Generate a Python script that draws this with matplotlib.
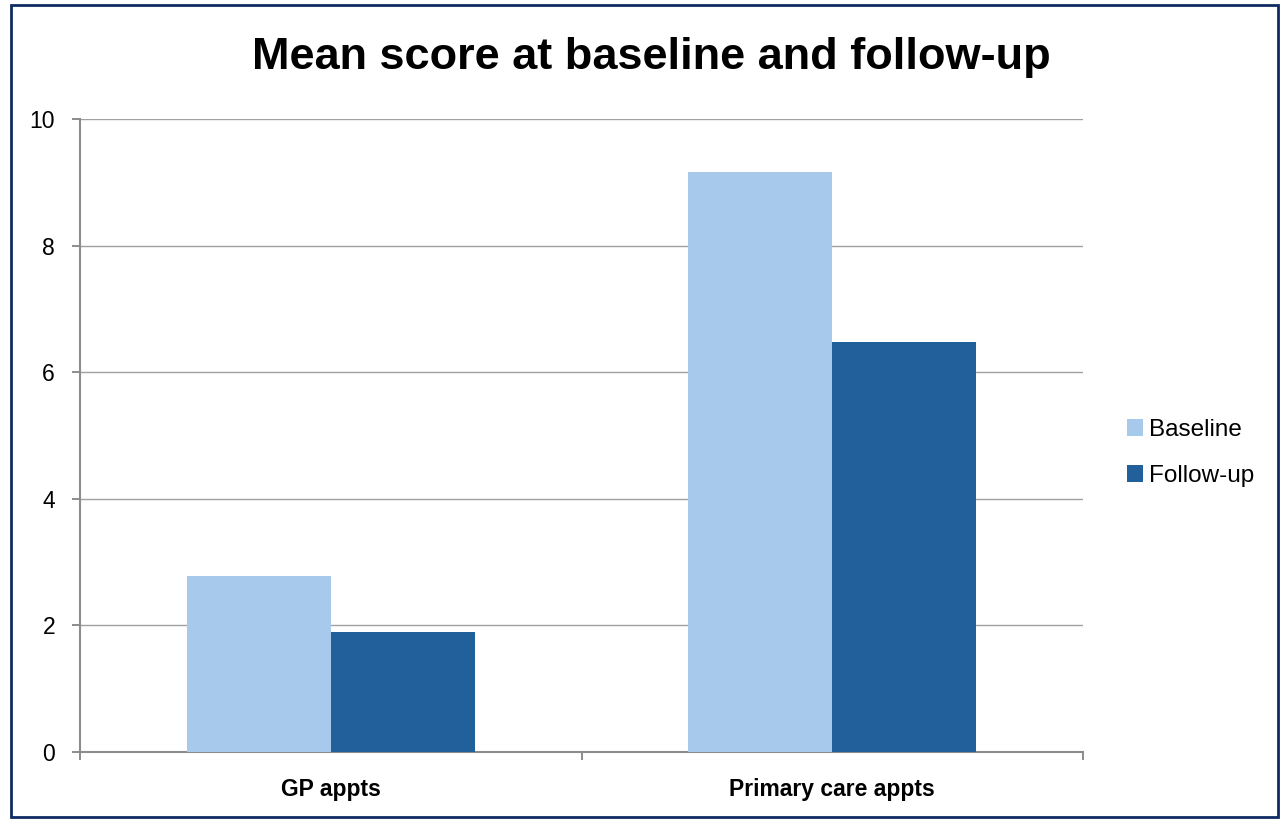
import numpy as np
import matplotlib.pyplot as plt
from matplotlib.patches import Rectangle, Patch

categories = ['GP appts', 'Primary care appts']
baseline = [2.78, 9.16]
follow_up = [1.90, 6.47]
series_names = ['Baseline', 'Follow-up']
colors = ['#a7c9eb', '#21609b']
yticks = [0, 2, 4, 6, 8, 10]

W, H = 1281, 822
fig = plt.figure(figsize=(W / 100, H / 100), dpi=100)
plt.rcParams['font.family'] = ['Liberation Sans', 'DejaVu Sans']

# outer frame
fig.patches.append(Rectangle((11 / W, 5 / H), 1267 / W, 812 / H, transform=fig.transFigure,
                             fill=False, edgecolor='#0e2c62', lw=2.0))

ax = fig.add_axes([80 / W, (H - 752) / H, 1003 / W, 633 / H])
x = np.arange(len(categories))
bw = 0.287
ax.bar(x - bw / 2, baseline, bw, color=colors[0], zorder=3)
ax.bar(x + bw / 2, follow_up, bw, color=colors[1], zorder=3)

ax.set_xlim(-0.5, len(categories) - 0.5)
ax.set_ylim(0, 10)
ax.set_yticks(yticks)
ax.set_yticklabels([str(t) for t in yticks], fontsize=16.5)
ax.set_xticks(x)
ax.set_xticklabels(categories, fontsize=16.5, fontweight='bold')
ax.tick_params(axis='x', length=0, pad=19)
ax.tick_params(axis='y', length=6, width=1.4, color='#8c8c8c', pad=12)
# category separators on the x axis
ax.set_xticks(np.arange(len(categories) + 1) - 0.5, minor=True)
ax.tick_params(axis='x', which='minor', length=6, width=1.4, color='#8c8c8c')

ax.grid(axis='y', color='#a0a0a0', lw=1.0, zorder=0)
for s in ['top', 'right']:
    ax.spines[s].set_visible(False)
for s in ['left', 'bottom']:
    ax.spines[s].set_color('#8c8c8c')
    ax.spines[s].set_linewidth(1.5)

fig.text(651 / W, (H - 57) / H, 'Mean score at baseline and follow-up',
         ha='center', va='center', fontsize=32.5, fontweight='bold')

handles = [Patch(facecolor=c, edgecolor='none') for c in colors]
fig.legend(handles, series_names, loc='center left', bbox_to_anchor=(1117 / W, (H - 453) / H),
           frameon=False, fontsize=17.5, handlelength=0.66, handleheight=0.66,
           handletextpad=0.27, labelspacing=1.0, borderaxespad=0)

fig.savefig('out.png', dpi=100)
